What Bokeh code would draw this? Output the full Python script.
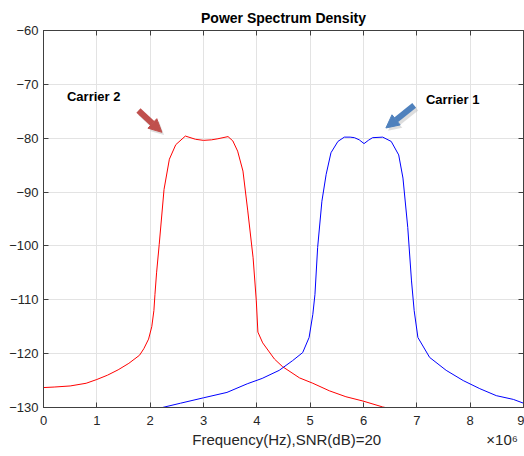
from bokeh.plotting import figure
from bokeh.models import Arrow, NormalHead, LinearAxis, FixedTicker, Range1d, Label
from bokeh.embed import file_html
from bokeh.resources import INLINE

# Carrier 2 (red)
red_x = [0, 0.2, 0.5, 0.8, 1.0, 1.2, 1.4, 1.6, 1.8, 1.88, 1.97, 2.03, 2.07, 2.09, 2.12,
         2.17, 2.26, 2.36, 2.48, 2.66, 2.85, 3.0, 3.15, 3.27, 3.46, 3.55, 3.64, 3.74,
         3.83, 3.93, 3.99, 4.02, 4.11, 4.33, 4.48, 4.80, 5.05, 5.36, 5.67, 5.99, 6.36,
         6.7, 7.5, 9.0]
red_y = [-126.3, -126.2, -126.0, -125.5, -124.8, -124.0, -123.0, -121.8, -120.3, -119.1,
         -117.3, -115.0, -112.0, -109.0, -105.0, -99.7, -89.5, -83.9, -81.2, -79.6, -80.2,
         -80.4, -80.3, -80.1, -79.7, -80.5, -82.4, -86.1, -93.5, -102.2, -110.2, -116.0,
         -118.0, -121.0, -122.4, -124.5, -125.5, -126.9, -128.0, -128.8, -129.9, -130.6,
         -131.8, -133.0]

# Carrier 1 (blue)
blue_x = [2.0, 2.23, 2.57, 3.0, 3.44, 3.82, 4.10, 4.42, 4.67, 4.86, 4.98, 5.05, 5.09, 5.14,
          5.22, 5.30, 5.39, 5.52, 5.64, 5.75, 5.83, 5.92, 6.01, 6.09, 6.17, 6.36, 6.52,
          6.66, 6.74, 6.83, 6.90, 6.95, 7.02, 7.24, 7.55, 7.87, 8.18, 8.49, 8.81, 9.0]
blue_y = [-130.5, -130.0, -129.2, -128.2, -127.2, -125.6, -124.6, -123.1, -121.3, -119.8,
          -117.0, -112.7, -109.0, -100.3, -91.7, -86.7, -82.7, -80.6, -79.8, -79.8, -79.9,
          -80.3, -81.0, -80.4, -79.9, -79.8, -80.6, -83.1, -87.4, -96.6, -106.5, -112.0,
          -117.0, -120.7, -123.1, -125.0, -126.5, -127.8, -128.5, -129.2]

x_ticks = [0, 1, 2, 3, 4, 5, 6, 7, 8, 9]
y_ticks = [-130, -120, -110, -100, -90, -80, -70, -60]

FONT = "Liberation Sans"
TXT = "#262626"
AX = "#404040"

p = figure(width=524, height=452, output_backend="svg", toolbar_location=None,
           x_range=Range1d(0, 9), y_range=Range1d(-130, -60),
           min_border_left=43, min_border_right=1, min_border_top=30, min_border_bottom=45)

p.title.text = "Power Spectrum Density"
p.title.align = "center"
p.title.text_font = FONT
p.title.text_font_size = "14px"
p.title.text_font_style = "bold"
p.title.text_color = "#000000"

p.line(red_x, red_y, line_color="#ff0000", line_width=1.0)
p.line(blue_x, blue_y, line_color="#0000ff", line_width=1.0)

for ax in (p.xaxis[0], p.yaxis[0]):
    ax.major_tick_in = 5
    ax.major_tick_out = 0
    ax.minor_tick_in = 0
    ax.minor_tick_out = 0
    ax.axis_line_color = AX
    ax.major_tick_line_color = AX
    ax.major_label_text_font = FONT
    ax.major_label_text_font_size = "13px"
    ax.major_label_text_color = TXT
    ax.major_label_standoff = 5

p.xaxis[0].ticker = FixedTicker(ticks=x_ticks)
p.xaxis[0].major_label_standoff = 8
p.yaxis[0].ticker = FixedTicker(ticks=y_ticks)

# second row below the ticks: axis title (centered) and the x10^6 multiplier
lab = LinearAxis(ticker=FixedTicker(ticks=[4.56, 8.6]),
                 major_label_overrides={4.56: "Frequency(Hz),SNR(dB)=20", 8.6: "×10⁶"})
lab.axis_line_color = None
lab.major_tick_line_color = None
lab.minor_tick_line_color = None
lab.major_tick_in = 0
lab.major_tick_out = 0
lab.minor_tick_in = 0
lab.minor_tick_out = 0
lab.major_label_standoff = 3
lab.major_label_text_font = FONT
lab.major_label_text_font_size = "15px"
lab.major_label_text_color = TXT
p.add_layout(lab, "below")

for loc, ticks in (("right", y_ticks), ("above", x_ticks)):
    ax = LinearAxis(ticker=FixedTicker(ticks=ticks),
                    major_label_overrides={t: "" for t in ticks})
    ax.major_tick_in = 5
    ax.major_tick_out = 0
    ax.minor_tick_in = 0
    ax.minor_tick_out = 0
    ax.axis_line_color = AX
    ax.major_tick_line_color = AX
    ax.major_label_standoff = 0
    p.add_layout(ax, loc)

p.xgrid.ticker = FixedTicker(ticks=x_ticks)
p.ygrid.ticker = FixedTicker(ticks=y_ticks)
p.grid.grid_line_color = "#e3e3e3"
p.outline_line_color = AX

# arrows with faint shadows
for (x0, y0, x1, y1, col) in ((1.78, -74.85, 2.22, -78.9, "#c0504d"),
                              (6.95, -73.9, 6.42, -78.1, "#4f81bd")):
    p.add_layout(Arrow(end=NormalHead(size=13, fill_color="#bbbbbb", line_color=None, fill_alpha=0.5),
                       x_start=x0 + 0.04, y_start=y0 - 0.5, x_end=x1 + 0.04, y_end=y1 - 0.5,
                       line_color="#bbbbbb", line_alpha=0.5, line_width=6))
    p.add_layout(Arrow(end=NormalHead(size=13, fill_color=col, line_color=col),
                       x_start=x0, y_start=y0, x_end=x1, y_end=y1,
                       line_color=col, line_width=6))

p.add_layout(Label(x=0.44, y=-72.25, text="Carrier 2", text_font=FONT, text_font_size="13px",
                   text_font_style="bold", text_color="#000000", text_baseline="middle"))
p.add_layout(Label(x=7.17, y=-72.8, text="Carrier 1", text_font=FONT, text_font_size="13px",
                   text_font_style="bold", text_color="#000000", text_baseline="middle"))

open("out.html", "w").write(file_html(p, INLINE))
